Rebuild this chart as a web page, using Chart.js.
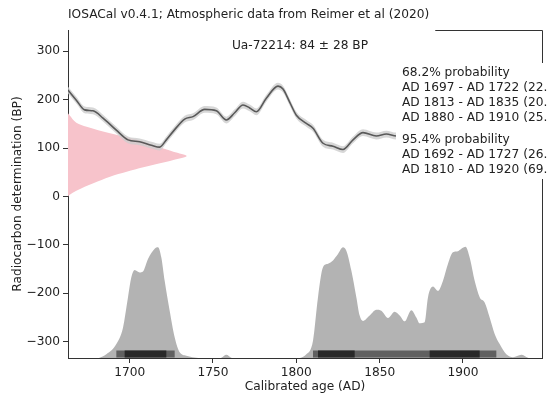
<!DOCTYPE html>
<html><head><meta charset="utf-8">
<script src="https://cdn.jsdelivr.net/npm/chart.js@4/dist/chart.umd.min.js"></script>
<style>html,body{margin:0;padding:0;background:#fff;}canvas{display:block;}</style>
</head><body>
<canvas id="c" width="547" height="396"></canvas>
<script>
// ---------- data ----------
const titleText = 'IOSACal v0.4.1; Atmospheric data from Reimer et al (2020)';
const sampleText = 'Ua-72214: 84 \u00B1 28 BP';
const xLabel = 'Calibrated age (AD)';
const yLabel = 'Radiocarbon determination (BP)';
const xTicks = [1700, 1750, 1800, 1850, 1900];
const yTicks = [-300, -200, -100, 0, 100, 200, 300];

// calibration curve (IntCal20)
const curveYears = [1663,1668,1673,1678,1684,1692,1699,1706,1713,1718,1722,1726,1733,1738,1745,1752,1758,1763,1768,1772,1776,1782,1789,1792,1796,1800,1806,1810,1816,1822,1828,1834,1840,1848,1854,1860,1870,1880,1890,1900,1910,1920,1930,1940,1947];
const curveBP    = [220,199,179,177,162,137,117,113,106,102,117,134,160,165,180,177,158,173,189,183,175,203,228,222,195,168,151,141,110,104,97,117,132,125,129,125,127,125,128,120,112,105,100,95,90];
const curveErr = 7;

// radiocarbon date distribution (pink), BP vs relative density (in years from the axis)
const pinkBP      = [172, 168.4, 152.5, 144.2, 130.6, 122.3, 113.2, 101.7, 92.6, 83.7, 75.4, 68.6, 60.3, 51.2, 40.9, 27.3, 12, 3.1, 0];
const pinkDensity = [0, 0.8, 5, 11.2, 25.2, 35.2, 45.2, 55.2, 63.2, 71.2, 63.2, 55.2, 45.2, 35.2, 25.2, 15.2, 5, 0.8, 0];

// calibrated distribution (grey), plotted in axis units
const calYears = [1663,1679,1686,1692,1696,1699,1701,1703,1706,1708,1711,1715,1717,1719,1721,1724,1727,1730,1734,1742,1750,1755,1758,1761,1764,1798,1806,1810,1813,1816,1819,1822,1825,1828,1830,1833,1836,1838,1840,1844,1848,1851,1855,1859,1862,1865,1869,1872,1874,1877,1879,1882,1885,1888,1891,1894,1897,1899,1901.5,1904,1907,1910,1913,1916,1919,1922,1926,1930,1935,1939,1942,1947];
const calDens  = [-335,-335,-326,-305,-271,-208,-167,-152,-157,-155,-129,-108,-105,-126,-174,-236,-291,-322,-329,-334,-335,-333,-327,-333,-335,-335,-326,-298,-208,-146,-139,-132,-119,-105,-112,-153,-208,-246,-257,-246,-234,-236,-251,-238,-246,-258,-235,-250,-262,-260,-208,-186,-195,-174,-139,-115,-113,-108,-104,-126,-174,-208,-219,-250,-284,-305,-326,-332,-327,-333,-335,-335];

// probability ranges [from, to, percent]
const ranges68 = [[1697, 1722, 22.6], [1813, 1835, 20.2], [1880, 1910, 25.4]];
const ranges95 = [[1692, 1727, 26.0], [1810, 1920, 69.4]];
const label68 = '68.2% probability';
const label95 = '95.4% probability';

// ---------- layout / style ----------
const XMIN = 1663, XMAX = 1947.4, YMIN = -333.7, YMAX = 344;
const BAR_Y = -325.5;
const FONT = '"DejaVu Sans", sans-serif';
Chart.defaults.font.family = FONT;
Chart.defaults.font.size = 12;
Chart.defaults.color = '#222';

const datasets = [];
ranges68.forEach(r => datasets.push({
  data: [{x: r[0], y: BAR_Y}, {x: r[1], y: BAR_Y}],
  borderColor: '#282828', borderWidth: 7, borderCapStyle: 'butt',
  pointRadius: 0, fill: false, order: 0
}));
ranges95.forEach(r => datasets.push({
  data: [{x: r[0], y: BAR_Y}, {x: r[1], y: BAR_Y}],
  borderColor: '#606060', borderWidth: 7, borderCapStyle: 'butt',
  pointRadius: 0, fill: false, order: 1
}));
datasets.push({
  data: curveYears.map((x, i) => ({x, y: curveBP[i]})),
  borderColor: 'rgba(75,75,75,0.9)', borderWidth: 1.6,
  pointRadius: 0, fill: false, cubicInterpolationMode: 'monotone', order: 2
});
datasets.push({
  data: curveYears.map((x, i) => ({x, y: curveBP[i] + curveErr})),
  borderColor: 'rgba(0,0,0,0)', borderWidth: 0, backgroundColor: 'rgba(205,205,205,0.8)',
  pointRadius: 0, fill: '+1', cubicInterpolationMode: 'monotone', order: 3
});
datasets.push({
  data: curveYears.map((x, i) => ({x, y: curveBP[i] - curveErr})),
  borderColor: 'rgba(0,0,0,0)', borderWidth: 0,
  pointRadius: 0, fill: false, cubicInterpolationMode: 'monotone', order: 4
});
datasets.push({
  data: pinkBP.map((b, i) => ({x: XMIN + pinkDensity[i], y: b})),
  borderColor: 'rgba(0,0,0,0)', borderWidth: 0, backgroundColor: '#f7c3cb',
  pointRadius: 0, fill: 'shape', tension: 0.35, order: 5
});
datasets.push({
  data: calYears.map((x, i) => ({x, y: calDens[i]})),
  borderColor: 'rgba(0,0,0,0)', borderWidth: 0, backgroundColor: '#b3b3b3',
  pointRadius: 0, fill: 'start', cubicInterpolationMode: 'monotone', order: 6
});

const fmtRange = r => `AD ${r[0]} - AD ${r[1]} (${r[2].toFixed(1)}%)`;
const TXT = '12.2px ' + FONT;

const overlay = {
  id: 'overlay',
  afterDraw(chart) {
    const {ctx, chartArea: a} = chart;
    ctx.save();
    ctx.font = TXT;
    ctx.fillStyle = '#222';
    // title
    ctx.textAlign = 'left'; ctx.textBaseline = 'middle';
    ctx.fillText(titleText, a.left, 15);
    const tw = ctx.measureText(titleText).width;
    // top (partial) and right spines
    ctx.strokeStyle = '#333'; ctx.lineWidth = 1;
    ctx.beginPath();
    ctx.moveTo(a.left + tw + 6, Math.round(a.top) + 0.5);
    ctx.lineTo(Math.round(a.right) + 0.5, Math.round(a.top) + 0.5);
    ctx.lineTo(Math.round(a.right) + 0.5, a.bottom);
    ctx.stroke();
    // sample label
    ctx.textAlign = 'center';
    ctx.fillText(sampleText, (a.left + a.right) / 2 - 5, 46);
    // legend box
    const lx = a.right - 140;
    ctx.fillStyle = '#fff';
    ctx.fillRect(lx - 6, 63, chart.width - lx + 6, 116);
    ctx.fillStyle = '#222';
    ctx.textAlign = 'left';
    const lines = [label68, ...ranges68.map(fmtRange)];
    lines.forEach((t, i) => ctx.fillText(t, lx, 73 + i * 15));
    const lines2 = [label95, ...ranges95.map(fmtRange)];
    lines2.forEach((t, i) => ctx.fillText(t, lx, 140 + i * 15));
    // axis titles
    ctx.textAlign = 'center';
    ctx.fillText(xLabel, (a.left + a.right) / 2, 387);
    ctx.translate(18, (a.top + a.bottom) / 2);
    ctx.rotate(-Math.PI / 2);
    ctx.fillText(yLabel, 0, 0);
    ctx.restore();
  }
};

new Chart(document.getElementById('c'), {
  type: 'line',
  data: {datasets},
  options: {
    responsive: false, animation: false, devicePixelRatio: 1,
    layout: {padding: {top: 30, right: 5, left: 0, bottom: 0}},
    plugins: {legend: {display: false}, tooltip: {enabled: false}, title: {display: false}},
    scales: {
      x: {
        type: 'linear', min: XMIN, max: XMAX,
        afterBuildTicks: s => { s.ticks = xTicks.map(v => ({value: v})); },
        afterFit: s => { s.height = 38; },
        ticks: {callback: v => String(v), padding: 3, maxRotation: 0, autoSkip: false, color: '#222', font: {size: 12.2}},
        grid: {drawOnChartArea: false, drawTicks: true, tickLength: 5, color: '#333'},
        border: {display: true, color: '#333', width: 1}
      },
      y: {
        type: 'linear', min: YMIN, max: YMAX,
        afterBuildTicks: s => { s.ticks = yTicks.map(v => ({value: v})); },
        afterFit: s => { s.width = 68; },
        ticks: {callback: v => v < 0 ? '\u2212' + Math.abs(v) : String(v), padding: 3, autoSkip: false, color: '#222', font: {size: 12.2}},
        grid: {drawOnChartArea: false, drawTicks: true, tickLength: 5, color: '#333'},
        border: {display: true, color: '#333', width: 1}
      }
    }
  },
  plugins: [overlay]
});
</script></body></html>
